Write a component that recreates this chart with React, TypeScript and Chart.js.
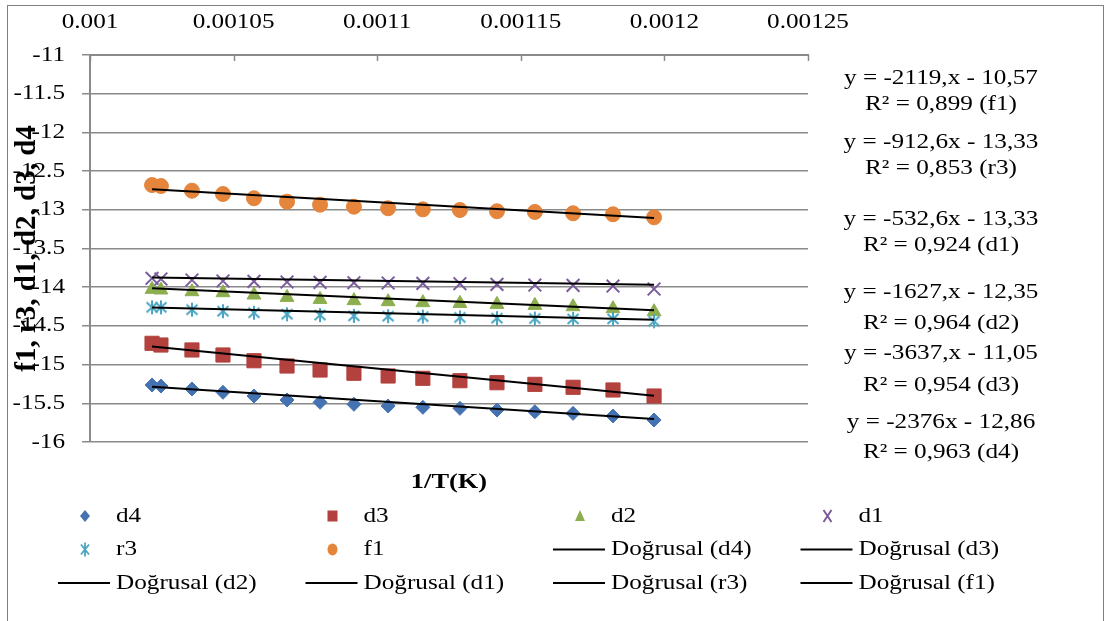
import React, { useEffect, useRef } from 'react';
import { Chart, registerables } from 'chart.js';

Chart.register(...registerables);

// ---- data ----
const xValues = [0.0010216, 0.0010247, 0.0010355, 0.0010463, 0.0010571, 0.0010686, 0.0010801, 0.0010919, 0.0011038, 0.0011159, 0.0011288, 0.0011417, 0.0011549, 0.0011682, 0.0011821, 0.0011964];
const d4 = [-15.264, -15.277, -15.315, -15.358, -15.406, -15.457, -15.487, -15.513, -15.535, -15.552, -15.565, -15.587, -15.609, -15.630, -15.664, -15.716];
const d3 = [-14.725, -14.747, -14.811, -14.876, -14.950, -15.018, -15.070, -15.112, -15.147, -15.177, -15.208, -15.234, -15.255, -15.293, -15.328, -15.406];
const d2 = [-14.028, -14.036, -14.058, -14.071, -14.101, -14.132, -14.158, -14.174, -14.187, -14.200, -14.209, -14.222, -14.235, -14.252, -14.278, -14.317];
const d1 = [-13.885, -13.894, -13.907, -13.920, -13.924, -13.933, -13.937, -13.942, -13.946, -13.950, -13.955, -13.963, -13.972, -13.976, -13.985, -14.023];
const r3 = [-14.26, -14.26, -14.29, -14.31, -14.33, -14.35, -14.36, -14.37, -14.375, -14.38, -14.39, -14.40, -14.405, -14.41, -14.41, -14.44];
const f1 = [-12.680, -12.693, -12.753, -12.796, -12.851, -12.895, -12.934, -12.960, -12.980, -12.994, -13.003, -13.019, -13.028, -13.045, -13.058, -13.097];

const seriesNames = ['d4', 'd3', 'd2', 'd1', 'r3', 'f1'];
const seriesValues = [d4, d3, d2, d1, r3, f1];
// linear trendline coefficients as printed on the chart (same order as seriesNames)
const trendSlopes = [-2376, -3637, -1627, -532.6, -912.6, -2119];
const trendIntercepts = [-12.86, -11.05, -12.35, -13.33, -13.33, -10.57];
const trendPrefix = 'Doğrusal';

const equationLabels = [
  'y = -2119,x - 10,57', 'R² = 0,899 (f1)',
  'y = -912,6x - 13,33', 'R² = 0,853 (r3)',
  'y = -532,6x - 13,33', 'R² = 0,924 (d1)',
  'y = -1627,x - 12,35', 'R² = 0,964 (d2)',
  'y = -3637,x - 11,05', 'R² = 0,954 (d3)',
  'y = -2376x - 12,86', 'R² = 0,963 (d4)',
];

const xTickValues = [0.001, 0.00105, 0.0011, 0.00115, 0.0012, 0.00125];
const yTickValues = [-16, -15.5, -15, -14.5, -14, -13.5, -13, -12.5, -12, -11.5, -11];
const xTitle = '1/T(K)';
const yTitle = 'f1, r3, d1, d2, d3, d4';

// ---- styles ----
const colors = ['#4573B1', '#B3413E', '#8DAE4E', '#7A5C9D', '#4AA5C3', '#E5853B'];
const markerKinds = ['diamond', 'square', 'triangle', 'x', 'star', 'circle'];
const FONT = '"Liberation Serif", "Times New Roman", serif';
const SX = 1.2;
const GRID = '#8a8a8a';

function txt(ctx: CanvasRenderingContext2D, s: string, x: number, y: number, size: number, align: CanvasTextAlign, bold = false, sx = SX) {
  ctx.save();
  ctx.translate(x, y);
  ctx.scale(sx, 1);
  ctx.font = `${bold ? 'bold ' : ''}${size}px ${FONT}`;
  ctx.textAlign = align;
  ctx.textBaseline = 'middle';
  ctx.fillStyle = '#000';
  ctx.fillText(s, 0, 0);
  ctx.restore();
}

function fmt(v: number) {
  return String(parseFloat(v.toPrecision(6)));
}

function makeStar(color: string) {
  const c = document.createElement('canvas');
  c.width = 16; c.height = 16;
  const g = c.getContext('2d')!;
  g.strokeStyle = color; g.lineWidth = 2;
  g.beginPath();
  g.moveTo(2.5, 3); g.lineTo(13.5, 13);
  g.moveTo(13.5, 3); g.lineTo(2.5, 13);
  g.moveTo(8, 1); g.lineTo(8, 15);
  g.stroke();
  return c;
}

function drawMarker(ctx: CanvasRenderingContext2D, kind: string, x: number, y: number, color: string) {
  ctx.save();
  ctx.fillStyle = color; ctx.strokeStyle = color; ctx.lineWidth = 2;
  ctx.beginPath();
  switch (kind) {
    case 'diamond':
      ctx.moveTo(x, y - 6); ctx.lineTo(x + 5, y); ctx.lineTo(x, y + 6); ctx.lineTo(x - 5, y); ctx.closePath(); ctx.fill(); break;
    case 'square':
      ctx.rect(x - 5, y - 5.5, 10, 11); ctx.fill(); break;
    case 'triangle':
      ctx.moveTo(x, y - 6); ctx.lineTo(x + 5, y + 5); ctx.lineTo(x - 5, y + 5); ctx.closePath(); ctx.fill(); break;
    case 'x':
      ctx.moveTo(x - 4, y - 6); ctx.lineTo(x + 4, y + 6); ctx.moveTo(x + 4, y - 6); ctx.lineTo(x - 4, y + 6); ctx.stroke(); break;
    case 'star':
      ctx.lineWidth = 1.8;
      ctx.moveTo(x - 4, y - 5); ctx.lineTo(x + 4, y + 5); ctx.moveTo(x + 4, y - 5); ctx.lineTo(x - 4, y + 5);
      ctx.moveTo(x, y - 7); ctx.lineTo(x, y + 7); ctx.stroke(); break;
    case 'circle':
      ctx.ellipse(x, y, 5, 6, 0, 0, Math.PI * 2); ctx.fill(); break;
  }
  ctx.restore();
}

const decorPlugin = {
  id: 'decor',
  beforeDraw(chart: any) {
    const ctx = chart.ctx as CanvasRenderingContext2D;
    ctx.save();
    ctx.fillStyle = '#fff';
    ctx.fillRect(0, 0, chart.width, chart.height);
    ctx.strokeStyle = '#7f7f7f';
    ctx.lineWidth = 1;
    ctx.strokeRect(7.5, 5.5, 1096, 700);
    ctx.restore();
  },
  afterDraw(chart: any) {
    const ctx = chart.ctx as CanvasRenderingContext2D;
    const area = chart.chartArea;
    const xs = chart.scales.x;
    const ys = chart.scales.y;
    // inner tick marks of the top x axis
    ctx.save();
    ctx.strokeStyle = GRID; ctx.lineWidth = 1.5;
    xs.ticks.forEach((t: any) => {
      const px = Math.round(xs.getPixelForValue(t.value)) + 0.5;
      ctx.beginPath(); ctx.moveTo(px, area.top); ctx.lineTo(px, area.top + 6); ctx.stroke();
    });
    ctx.restore();
    // tick labels
    xs.ticks.forEach((t: any) => txt(ctx, fmt(t.value), xs.getPixelForValue(t.value), area.top - 33, 21, 'center'));
    ys.ticks.forEach((t: any) => txt(ctx, fmt(t.value), area.left - 25, ys.getPixelForValue(t.value), 21, 'right'));
    // axis titles
    txt(ctx, xTitle, (area.left + area.right) / 2, area.bottom + 40, 22, 'center', true);
    ctx.save();
    ctx.translate(area.left - 62, (area.top + area.bottom) / 2);
    ctx.rotate(-Math.PI / 2);
    txt(ctx, yTitle, 0, 0, 29, 'center', true, 1);
    ctx.restore();
    // trendline equations
    const eqY = [78, 104, 142, 168, 219, 245, 292, 323, 353, 385, 422, 452];
    equationLabels.forEach((s, i) => txt(ctx, s, area.right + 133, eqY[i], 21, 'center'));
    // legend
    const ds = chart.data.datasets;
    ds.forEach((d: any, i: number) => {
      const col = i % 4;
      const row = Math.floor(i / 4);
      const tx = area.left + 26 + col * 247.5;
      const ty = area.bottom + 74 + row * 33.5;
      if (i < seriesNames.length) {
        drawMarker(ctx, markerKinds[i], tx - 31, ty, colors[i]);
      } else {
        ctx.save();
        ctx.strokeStyle = '#000'; ctx.lineWidth = 2;
        ctx.beginPath(); ctx.moveTo(tx - 58, ty); ctx.lineTo(tx - 6, ty); ctx.stroke();
        ctx.restore();
      }
      txt(ctx, d.label, tx, ty, 21, 'left');
    });
  },
};

export default function App() {
  const ref = useRef<HTMLCanvasElement>(null);
  useEffect(() => {
    if (!ref.current) return;
    const star = makeStar(colors[4]);
    const pointStyles: any[] = ['rectRot', 'rect', 'triangle', 'crossRot', star, 'circle'];
    const radii = [7, 10, 8, 9, 8, 7.5];
    const scatterSets = seriesNames.map((name, i) => ({
      label: name,
      data: xValues.map((x, j) => ({ x, y: seriesValues[i][j] })),
      pointStyle: pointStyles[i],
      pointRadius: radii[i],
      pointBackgroundColor: colors[i],
      pointBorderColor: colors[i],
      pointBorderWidth: i === 3 ? 2 : 1,
      showLine: false,
      order: 10 - i,
    }));
    const x0 = xValues[0];
    const x1 = xValues[xValues.length - 1];
    const trendSets = seriesNames.map((name, i) => ({
      label: `${trendPrefix} (${name})`,
      data: [x0, x1].map((x) => ({ x, y: trendSlopes[i] * x + trendIntercepts[i] })),
      showLine: true,
      borderColor: '#000',
      borderWidth: 2,
      pointRadius: 0,
      fill: false,
      order: 0,
    }));
    const chart = new Chart(ref.current, {
      type: 'scatter',
      data: { datasets: [...scatterSets, ...trendSets] as any },
      options: {
        animation: false,
        responsive: true,
        maintainAspectRatio: false,
        events: [],
        layout: { autoPadding: false, padding: { left: 82, top: 55, right: 304, bottom: 179 } },
        plugins: { legend: { display: false }, tooltip: { enabled: false } },
        scales: {
          x: {
            type: 'linear',
            position: 'top',
            min: 0.001,
            max: 0.00125,
            afterBuildTicks: (s: any) => { s.ticks = xTickValues.map((v) => ({ value: v })); },
            ticks: { display: false },
            grid: { display: true, drawOnChartArea: false, drawTicks: false },
            border: { display: true, color: GRID, width: 2 },
          },
          y: {
            type: 'linear',
            min: -16,
            max: -11,
            afterBuildTicks: (s: any) => { s.ticks = yTickValues.map((v) => ({ value: v })); },
            ticks: { display: false },
            grid: { color: GRID, lineWidth: 1.5, drawTicks: true, tickLength: 8, tickColor: GRID },
            border: { display: true, color: GRID, width: 2 },
          },
        },
      } as any,
      plugins: [decorPlugin],
    });
    return () => chart.destroy();
  }, []);
  return (
    <div style={{ position: 'absolute', left: 0, top: 0, width: 1112, height: 621, background: '#fff' }}>
      <canvas ref={ref} />
    </div>
  );
}
